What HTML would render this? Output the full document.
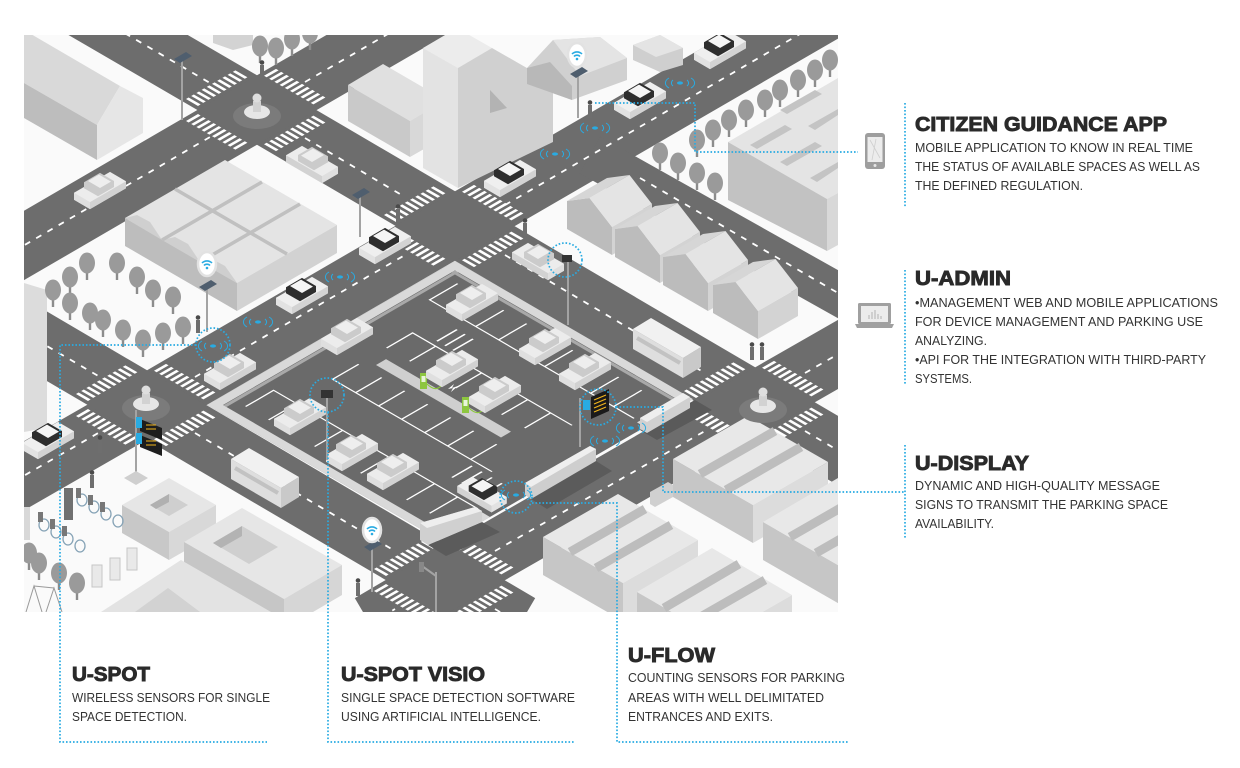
<!DOCTYPE html>
<html><head><meta charset="utf-8"><style>
html,body{margin:0;padding:0;background:#fff;}
svg{display:block;}
.h{font-family:"Liberation Sans",Arial,sans-serif;font-weight:bold;font-size:20px;fill:#2a2a2a;stroke:#2a2a2a;stroke-width:0.9px;}
.b{font-family:"Liberation Sans",Arial,sans-serif;font-size:12.8px;fill:#333;}
</style></head><body>
<svg width="1240" height="768" viewBox="0 0 1240 768" xmlns="http://www.w3.org/2000/svg">
<defs>
<clipPath id="c"><rect x="24" y="35" width="814" height="577"/></clipPath>
<g id="tree"><rect x="-1.2" y="-8" width="2.4" height="9" fill="#8c8c8c"/><ellipse cx="0" cy="-16" rx="8" ry="10.5" fill="#9a9a9a"/></g>
<g id="house">
<polygon points="0,0 40,-23 40,-51 0,-28" fill="#d3d3d3"/>
<polygon points="0,0 -45,-26 -45,-54 -22.5,-57 0,-28" fill="#bcbcbc"/>
<polygon points="-22.5,-57 17.5,-80 -5,-77 -45,-54" fill="#d6d6d6"/>
<polygon points="0,-28 40,-51 17.5,-80 -22.5,-57" fill="#e4e4e4"/>
</g>
<g id="cd">
<polygon points="-26,5.8 -10,15.1 26,-5.8 26,-12.8 10,-22.1 -26,-1.2" fill="#efefef"/>
<polygon points="-10,15.1 26,-5.8 26,-12.8 -10,8.1" fill="#d3d3d3"/>
<polygon points="-26,5.8 -10,15.1 -10,8.1 -26,-1.2" fill="#e2e2e2"/>
<polygon points="-16,-5.8 -2,2.3 14,-7 14,-13 0,-21.1 -16,-11.8" fill="#2e2e2e"/>
<polygon points="-12,-13 0,-6 11,-12.4 -1,-19.4" fill="#f5f5f5"/>
</g>
<g id="cl">
<polygon points="-26,5.8 -10,15.1 26,-5.8 26,-12.8 10,-22.1 -26,-1.2" fill="#ececec"/>
<polygon points="-10,15.1 26,-5.8 26,-12.8 -10,8.1" fill="#d2d2d2"/>
<polygon points="-26,5.8 -10,15.1 -10,8.1 -26,-1.2" fill="#dfdfdf"/>
<polygon points="-16,-5.8 -2,2.3 14,-7 14,-13 0,-21.1 -16,-11.8" fill="#cbcbcb"/>
<polygon points="-12,-13 0,-6 11,-12.4 -1,-19.4" fill="#eeeeee"/>
</g>
<g id="ws"><ellipse rx="3" ry="1.6" fill="#29abe2"/><path d="M-7,-3 A8,5 0 0 0 -7,3 M7,-3 A8,5 0 0 1 7,3 M-11,-5 A12,7 0 0 0 -11,5 M11,-5 A12,7 0 0 1 11,5" stroke="#29abe2" fill="none" stroke-width="1"/></g>
<g id="wb"><ellipse rx="9" ry="12" fill="#fff" stroke="#e2e2e2" stroke-width="2.5"/><path d="M-5,-1 A7,7 0 0 1 5,-1 M-3,1.5 A4,4 0 0 1 3,1.5" stroke="#29abe2" fill="none" stroke-width="1.6"/><circle cx="0" cy="4" r="1.3" fill="#29abe2"/></g>
<g id="ped"><rect x="-2" y="-13" width="4" height="13" fill="#6e6e6e"/><circle cx="0" cy="-15.5" r="2.3" fill="#4a4a4a"/></g>
<g id="sp"><polygon points="-8,2 4,-5 10,-1 -2,6" fill="#4f5e6e"/></g>
<g id="statue"><ellipse cx="0" cy="0" rx="24" ry="13" fill="#7b7b7b"/><ellipse cx="0" cy="-4" rx="13" ry="7" fill="#e6e6e6"/><rect x="-4" y="-15" width="8" height="11" fill="#d2d2d2"/><circle cx="0" cy="-18" r="4.5" fill="#dedede"/></g>
</defs>

<g clip-path="url(#c)">
<rect x="24" y="35" width="814" height="577" fill="#fafafa"/>

<g stroke="#6d6d6d" stroke-width="60" fill="none" stroke-linejoin="round">
<polyline points="80,7 257,110 455,226 755,402 900,487"/>
<polyline points="-20,271 257,110 450,-2"/>
<polyline points="-20,501 147,405 455,226 900,-32"/>
<polyline points="-20,307 147,405 445,580 520,624"/>
<polyline points="370,624 445,580 755,402 900,319"/>
</g>
<line x1="590" y1="155" x2="900" y2="329" stroke="#6d6d6d" stroke-width="42"/>

<path d="M80,7 L210,83 M305,138 L405,197 M505,255 L705,373 M805,431 L900,487 M-20,271 L210,137 M305,82 L450,-2 M-20,501 L100,432 M195,377 L405,255 M505,205 L900,-24 M-20,307 L100,377 M195,433 L395,551 M495,609 L520,624 M370,624 L395,609 M495,551 L705,431 M805,373 L900,319 M640,178 L900,329" stroke="#fff" stroke-width="1.8" stroke-dasharray="6 7" fill="none"/>

<g stroke="#fff" stroke-width="12" stroke-dasharray="2.6 2.6" fill="none">
<path transform="matrix(1 .58 1 -.58 257 110)" d="M39,-26V26 M-39,-26V26 M-26,39H26 M-26,-39H26"/>
<path transform="matrix(1 .58 1 -.58 455 226)" d="M39,-26V26 M-39,-26V26 M-26,39H26 M-26,-39H26"/>
<path transform="matrix(1 .58 1 -.58 147 405)" d="M39,-26V26 M-39,-26V26 M-26,39H26 M-26,-39H26"/>
<path transform="matrix(1 .58 1 -.58 755 402)" d="M39,-26V26 M-39,-26V26 M-26,39H26 M-26,-39H26"/>
<path transform="matrix(1 .58 1 -.58 445 580)" d="M39,-26V26 M-39,-26V26 M-26,39H26 M-26,-39H26"/>
</g>

<g transform="matrix(1 .58 1 -.58 207 405)">
<rect x="0" y="0" width="238" height="248" fill="#6a6a6a"/>
<g stroke="#fff" fill="none">
<line x1="20" y1="32" x2="225" y2="32" stroke-width="28" stroke-dasharray="1.3 21.7"/>
<line x1="40" y1="98" x2="200" y2="98" stroke-width="26" stroke-dasharray="1.3 21.7"/>
<line x1="40" y1="152" x2="200" y2="152" stroke-width="26" stroke-dasharray="1.3 21.7"/>
<line x1="20" y1="216" x2="225" y2="216" stroke-width="28" stroke-dasharray="1.3 21.7"/>
<path d="M20,46H225 M40,85H200 M40,165H200 M20,202H225" stroke-width="1.2"/>
<path d="M185,60V80 M195,60V80 M205,60V80 M215,60V80" stroke-width="1.5"/>
<path d="M60,170V190 M68,170V190 M76,170V190" stroke-width="1.5"/>
</g>
<rect x="50" y="119" width="125" height="10" fill="#cfcfcf"/>
<line x1="4" y1="0" x2="4" y2="248" stroke="#d9d9d9" stroke-width="8"/>
<line x1="10" y1="8" x2="10" y2="242" stroke="#a9a9a9" stroke-width="3"/>
<line x1="0" y1="244" x2="238" y2="244" stroke="#d9d9d9" stroke-width="8"/>
<line x1="8" y1="238" x2="232" y2="238" stroke="#a9a9a9" stroke-width="3"/>
<line x1="0" y1="4" x2="238" y2="4" stroke="#d9d9d9" stroke-width="8"/>
<line x1="234" y1="200" x2="234" y2="248" stroke="#d9d9d9" stroke-width="8"/>
<line x1="234" y1="0" x2="234" y2="45" stroke="#d9d9d9" stroke-width="8"/>
</g>
<rect x="420" y="373" width="7" height="16" fill="#8dc63f"/><rect x="421.5" y="376" width="4" height="6" fill="#e8f5d8"/>
<rect x="462" y="397" width="7" height="16" fill="#8dc63f"/><rect x="463.5" y="400" width="4" height="6" fill="#e8f5d8"/>
<path d="M427,384 q8,8 14,2 M469,408 q8,8 14,2" stroke="#8dc63f" fill="none" stroke-width="1.2"/>
<path d="M448,389 l6,-5 -2,4 6,-2 -7,6 2,-4z" fill="#fff"/>
<polygon points="640,430 695,400 712,410 657,440" fill="#5a5a5a"/>
<polygon points="640,418 683,393 690,397 690,408 647,433 640,429" fill="#d0d0d0"/>
<polygon points="640,418 683,393 690,397 647,422" fill="#eeeeee"/>
<polygon points="531,499 596,461 612,471 547,509" fill="#5b5b5b"/>
<polygon points="525,483 590,446 596,449 596,461 531,499 525,495" fill="#cecece"/>
<polygon points="525,483 590,446 596,449 531,487" fill="#efefef"/>
<polygon points="428,545 482,522 500,532 446,556" fill="#5b5b5b"/>
<polygon points="420,523 475,507 482,511 482,522 428,545 420,540" fill="#d0d0d0"/>
<polygon points="420,523 475,507 482,511 427,528" fill="#eeeeee"/>
<polygon points="650,492 668,482 673,485 673,497 655,507 650,504" fill="#d0d0d0"/>

<use href="#cl" x="347" y="340"/>
<use href="#cl" x="472" y="306"/>
<use href="#cl" x="300" y="420"/>
<use href="#cl" x="352" y="456"/>
<use href="#cl" x="393" y="475"/>
<use href="#cl" x="545" y="350"/>
<use href="#cl" x="585" y="375"/>
<use href="#cl" x="452" y="372"/>
<use href="#cl" x="495" y="398"/>
<use href="#cd" transform="translate(482,498) scale(-0.95,0.95)"/>

<polygon points="24,30 120,86 97,125 24,83" fill="#d9d9d9"/>
<polygon points="97,125 120,86 143,98 143,133 97,160" fill="#e6e6e6"/>
<polygon points="24,83 97,125 97,160 24,118" fill="#bdbdbd"/>
<polygon points="213,35 253,35 253,45 233,50 213,43" fill="#d3d3d3"/>
<use href="#tree" x="260" y="62"/><use href="#tree" x="276" y="64"/><use href="#tree" x="292" y="55"/><use href="#tree" x="310" y="49"/>
<polygon points="348,85 410,121 445,100 383,64" fill="#e0e0e0"/>
<polygon points="348,85 410,121 410,157 348,121" fill="#c9c9c9"/>
<polygon points="410,121 445,100 445,137 410,157" fill="#d8d8d8"/>
<polygon points="423,48 458,68 492,48 457,28" fill="#ececec"/>
<polygon points="458,68 492,48 553,83 553,142 458,188" fill="#d0d0d0"/>
<polygon points="490,90 507,108 490,113" fill="#b3b3b3"/>
<polygon points="423,48 458,68 458,188 423,168" fill="#e3e3e3"/>
<polygon points="527,68 553,40 600,37 627,58 627,80 572,100 527,84" fill="#d0d0d0"/>
<polygon points="553,40 600,37 627,58 580,76" fill="#e4e4e4"/>
<polygon points="527,68 527,84 572,100 572,86 550,62" fill="#b8b8b8"/>
<polygon points="633,45 660,35 683,48 683,65 660,72 633,60" fill="#cfcfcf"/>
<polygon points="633,45 660,35 683,48 656,57" fill="#e4e4e4"/>

<use href="#tree" x="697" y="156"/><use href="#tree" x="713" y="146"/><use href="#tree" x="729" y="136"/><use href="#tree" x="746" y="126"/><use href="#tree" x="765" y="116"/><use href="#tree" x="780" y="106"/><use href="#tree" x="798" y="96"/><use href="#tree" x="815" y="86"/><use href="#tree" x="830" y="76"/>
<use href="#tree" x="660" y="169"/><use href="#tree" x="678" y="179"/><use href="#tree" x="697" y="189"/><use href="#tree" x="715" y="199"/>
<polygon points="728,142 827,199 838,193 838,78" fill="#e4e4e4"/>
<polygon points="728,142 827,199 827,251 728,200" fill="#c2c2c2"/>
<polygon points="827,199 838,193 838,245 827,251" fill="#d8d8d8"/>
<g fill="#c4c4c4"><polygon points="750,145 785,125 792,129 757,149"/><polygon points="780,162 815,142 822,146 787,166"/><polygon points="810,178 838,162 838,168 817,182"/><polygon points="780,110 815,90 822,94 787,114"/><polygon points="808,126 838,109 838,115 815,130"/></g>

<use href="#house" x="612" y="255"/>
<use href="#house" x="660" y="283"/>
<use href="#house" x="708" y="311"/>
<use href="#house" x="758" y="339"/>

<polygon points="125,218 237,283 337,225 225,160" fill="#e4e4e4"/>
<polygon points="125,218 237,283 237,311 125,246" fill="#bdbdbd"/>
<polygon points="237,283 337,225 337,253 237,311" fill="#d2d2d2"/>
<polygon points="125,218 162,240 150,222 137,215" fill="#cfcfcf"/>
<polygon points="162,240 200,262 188,244 175,237" fill="#cfcfcf"/>
<polygon points="200,262 237,283 225,266 212,259" fill="#cfcfcf"/>
<path d="M175,189 L287,254 M162,240 L262,182 M200,262 L300,204" stroke="#c0c0c0" stroke-width="3.5" fill="none"/>
<polygon points="24,283 47,290 47,428 24,432" fill="#dcdcdc"/>
<use href="#tree" x="53" y="306"/><use href="#tree" x="70" y="293"/><use href="#tree" x="87" y="279"/><use href="#tree" x="117" y="279"/><use href="#tree" x="70" y="319"/><use href="#tree" x="90" y="329"/><use href="#tree" x="137" y="293"/><use href="#tree" x="153" y="306"/><use href="#tree" x="173" y="313"/><use href="#tree" x="103" y="336"/><use href="#tree" x="123" y="346"/><use href="#tree" x="143" y="356"/><use href="#tree" x="163" y="349"/><use href="#tree" x="183" y="343"/>

<use href="#cd" x="385" y="249"/>
<use href="#cd" x="302" y="299"/>
<use href="#cd" x="48" y="444"/>
<use href="#cd" x="510" y="182"/>
<use href="#cd" x="640" y="104"/>
<use href="#cd" x="720" y="54"/>
<use href="#cl" x="230" y="375"/>
<use href="#cl" x="100" y="194"/>
<use href="#cl" transform="translate(312,168) scale(-1,1)"/>
<use href="#cl" transform="translate(538,265) scale(-1,1)"/>
<polygon points="231,479 281,508 281,488 231,459" fill="#dedede"/>
<polygon points="281,508 299,497 299,477 281,488" fill="#c9c9c9"/>
<polygon points="231,459 281,488 299,477 249,448" fill="#f1f1f1"/>
<line x1="235" y1="468" x2="278" y2="493" stroke="#c2c2c2" stroke-width="4"/>
<polygon points="633,349 683,378 683,358 633,329" fill="#dedede"/>
<polygon points="683,378 701,367 701,347 683,358" fill="#c9c9c9"/>
<polygon points="633,329 683,358 701,347 651,318" fill="#f1f1f1"/>
<line x1="637" y1="338" x2="680" y2="363" stroke="#c2c2c2" stroke-width="4"/>

<g>
<polygon points="673,497 753,543 753,505 673,459" fill="#c6c6c6"/>
<polygon points="753,543 828,500 828,462 753,505" fill="#dcdcdc"/>
<polygon points="673,459 753,505 828,462 748,416" fill="#e8e8e8"/>
<path d="M700,474 L775,431 M726,490 L801,447" stroke="#bdbdbd" stroke-width="9"/>
<polygon points="543,575 623,621 623,583 543,537" fill="#c6c6c6"/>
<polygon points="623,621 698,578 698,540 623,583" fill="#dcdcdc"/>
<polygon points="543,537 623,583 698,540 618,494" fill="#e8e8e8"/>
<path d="M570,552 L645,509 M596,568 L671,525" stroke="#bdbdbd" stroke-width="9"/>
<polygon points="763,560 843,606 843,568 763,522" fill="#c6c6c6"/>
<polygon points="763,522 843,568 918,525 838,478" fill="#e8e8e8"/>
<path d="M790,537 L865,494 M816,553 L891,510" stroke="#bdbdbd" stroke-width="9"/>
<polygon points="637,630 717,676 717,638 637,592" fill="#c6c6c6"/>
<polygon points="717,676 792,633 792,595 717,638" fill="#dcdcdc"/>
<polygon points="637,592 717,638 792,595 712,548" fill="#e8e8e8"/>
<path d="M664,608 L739,564 M690,623 L765,580" stroke="#bdbdbd" stroke-width="9"/>
</g>

<polygon points="122,505 169,532 216,505 169,478" fill="#e6e6e6"/>
<polygon points="122,505 169,532 169,560 122,533" fill="#c8c8c8"/>
<polygon points="169,532 216,505 216,533 169,560" fill="#d8d8d8"/>
<polygon points="150,505 169,494 188,505 169,516" fill="#cfcfcf"/>
<polygon points="150,505 169,494 169,502 156,509" fill="#b0b0b0"/>
<polygon points="184,542 242,508 342,565 284,599" fill="#e6e6e6"/>
<polygon points="184,542 284,599 284,629 184,572" fill="#c6c6c6"/>
<polygon points="284,599 342,565 342,595 284,629" fill="#d6d6d6"/>
<polygon points="213,543 242,526 278,547 249,564" fill="#cfcfcf"/>
<polygon points="213,543 242,526 242,536 221,548" fill="#b3b3b3"/>
<polygon points="101,612 181,560 271,612" fill="#e3e3e3"/>
<polygon points="135,612 168,588 200,612" fill="#d2d2d2"/>
<use href="#tree" x="29" y="569"/><use href="#tree" x="39" y="579"/><use href="#tree" x="59" y="589"/><use href="#tree" x="77" y="599"/>
<g fill="#e9e9e9" stroke="#c6c6c6" stroke-width="1"><rect x="92" y="565" width="10" height="22"/><rect x="110" y="558" width="10" height="22"/><rect x="127" y="548" width="10" height="22"/></g>
<g stroke="#86a3b6" stroke-width="1.3" fill="none">
<ellipse cx="44" cy="525" rx="5" ry="6"/><ellipse cx="56" cy="532" rx="5" ry="6"/><ellipse cx="68" cy="539" rx="5" ry="6"/><ellipse cx="80" cy="546" rx="5" ry="6"/>
<ellipse cx="82" cy="500" rx="5" ry="6"/><ellipse cx="94" cy="507" rx="5" ry="6"/><ellipse cx="106" cy="514" rx="5" ry="6"/><ellipse cx="118" cy="521" rx="5" ry="6"/>
</g>
<g fill="#777"><rect x="38" y="512" width="5" height="10"/><rect x="50" y="519" width="5" height="10"/><rect x="62" y="526" width="5" height="10"/><rect x="76" y="488" width="5" height="10"/><rect x="88" y="495" width="5" height="10"/><rect x="100" y="502" width="5" height="10"/></g>
<rect x="64" y="488" width="9" height="32" fill="#707070"/>
<rect x="24" y="507" width="6" height="33" fill="#d8d8d8"/>
<path d="M26,612 L34,586 L42,612 M46,612 L54,588 L62,612 M34,586 L54,588" stroke="#9a9a9a" stroke-width="1" fill="none"/>

<use href="#statue" x="257" y="116"/>
<use href="#statue" x="146" y="408"/>
<use href="#statue" x="763" y="410"/>

<g stroke="#a3a3a3" stroke-width="2">
<line x1="182" y1="58" x2="182" y2="120"/><line x1="360" y1="195" x2="360" y2="237"/><line x1="207" y1="287" x2="207" y2="332"/>
<line x1="578" y1="73" x2="578" y2="118"/><line x1="372" y1="547" x2="372" y2="592"/>
<line x1="568" y1="262" x2="568" y2="325"/><line x1="327" y1="397" x2="327" y2="460"/>
<line x1="136" y1="410" x2="136" y2="480"/><line x1="580" y1="398" x2="580" y2="447"/>
<line x1="436" y1="572" x2="436" y2="612"/><line x1="422" y1="566" x2="436" y2="576"/>
</g>
<use href="#sp" x="182" y="57"/><use href="#sp" x="360" y="193"/><use href="#sp" x="207" y="285"/><use href="#sp" x="578" y="72"/><use href="#sp" x="372" y="545"/>
<rect x="562" y="255" width="10" height="7" fill="#333"/><rect x="321" y="390" width="12" height="8" fill="#333"/>
<rect x="419" y="562" width="5" height="10" fill="#888"/>
<polygon points="124,478 136,471 148,478 136,485" fill="#cfcfcf"/>
<polygon points="140,419 162,428 162,440 140,431" fill="#1e1e1e"/><polygon points="140,435 162,444 162,456 140,447" fill="#1e1e1e"/>
<rect x="136" y="417" width="6" height="11" fill="#29abe2"/><rect x="136" y="433" width="6" height="11" fill="#29abe2"/>
<path d="M146,425 h10 M146,429 h10 M146,441 h10 M146,445 h10" stroke="#f2b51c" stroke-width="1"/>
<polygon points="591,397 609,389 609,411 591,419" fill="#1a1a1a"/>
<path d="M594,400 l12,-5 M594,404 l12,-5 M594,408 l12,-5 M594,412 l12,-5" stroke="#f2b51c" stroke-width="1.2"/>
<rect x="583" y="400" width="7" height="10" fill="#29abe2"/>

<use href="#wb" x="207" y="264"/><use href="#wb" x="577" y="55"/><use href="#wb" x="372" y="530"/>
<use href="#ws" x="213" y="346"/><use href="#ws" x="258" y="322"/><use href="#ws" x="340" y="277"/>
<use href="#ws" x="555" y="154"/><use href="#ws" x="595" y="128"/><use href="#ws" x="680" y="83"/>
<use href="#ws" x="605" y="441"/><use href="#ws" x="631" y="428"/><use href="#ws" x="516" y="495"/>

<use href="#ped" x="262" y="78"/><use href="#ped" x="590" y="118"/><use href="#ped" x="525" y="236"/><use href="#ped" x="198" y="333"/>
<use href="#ped" x="100" y="453"/><use href="#ped" x="92" y="488"/><use href="#ped" x="358" y="596"/><use href="#ped" x="752" y="360"/><use href="#ped" x="762" y="360"/><use href="#ped" x="398" y="222"/>
</g>

<g stroke="#29abe2" stroke-width="1.7" fill="none" stroke-dasharray="1.6 1.9">
<circle cx="213" cy="345" r="17"/>
<circle cx="327" cy="395" r="17"/>
<circle cx="565" cy="260" r="17"/>
<circle cx="598" cy="407" r="18"/>
<circle cx="516" cy="497" r="16"/>
<path d="M196,345 H60 V742 H267"/>
<path d="M328,412 V742 H575"/>
<path d="M532,503 H617 V742 H848"/>
<path d="M616,407 H663 V492 H905"/>
<path d="M595,103 H695 V152 H858"/>
<path d="M905,103 V207 M905,270 V385 M905,445 V538"/>
</g>

<rect x="865" y="133" width="20" height="36" rx="3" fill="#9e9e9e"/>
<rect x="867.5" y="137" width="15" height="25" fill="#ececec"/>
<path d="M870,140 L880,158 M876,139 L872,160" stroke="#cfcfcf" stroke-width="0.8"/>
<circle cx="875" cy="165.5" r="1.5" fill="#e6e6e6"/>
<rect x="858" y="303" width="33" height="21" rx="1.5" fill="#a0a0a0"/>
<rect x="861" y="306" width="27" height="16" fill="#ececec"/>
<path d="M869,319 v-4 M872,319 v-7 M875,319 v-9 M878,319 v-5 M881,319 v-3" stroke="#cfcfcf" stroke-width="2"/>
<path d="M855,324 H894 L892,328 H857 Z" fill="#a0a0a0"/>

<text class="h" x="915" y="131" textLength="252" lengthAdjust="spacingAndGlyphs">CITIZEN GUIDANCE APP</text>
<text class="b" x="915" y="152" textLength="278" lengthAdjust="spacingAndGlyphs">MOBILE APPLICATION TO KNOW IN REAL TIME</text>
<text class="b" x="915" y="171" textLength="285" lengthAdjust="spacingAndGlyphs">THE STATUS OF AVAILABLE SPACES AS WELL AS</text>
<text class="b" x="915" y="190" textLength="168" lengthAdjust="spacingAndGlyphs">THE DEFINED REGULATION.</text>

<text class="h" x="915" y="285" textLength="96" lengthAdjust="spacingAndGlyphs">U-ADMIN</text>
<text class="b" x="915" y="307" textLength="303" lengthAdjust="spacingAndGlyphs">•MANAGEMENT WEB AND MOBILE APPLICATIONS</text>
<text class="b" x="915" y="326" textLength="288" lengthAdjust="spacingAndGlyphs">FOR DEVICE MANAGEMENT AND PARKING USE</text>
<text class="b" x="915" y="345" textLength="72" lengthAdjust="spacingAndGlyphs">ANALYZING.</text>
<text class="b" x="915" y="364" textLength="291" lengthAdjust="spacingAndGlyphs">•API FOR THE INTEGRATION WITH THIRD-PARTY</text>
<text class="b" x="915" y="383" textLength="57" lengthAdjust="spacingAndGlyphs">SYSTEMS.</text>

<text class="h" x="915" y="470" textLength="114" lengthAdjust="spacingAndGlyphs">U-DISPLAY</text>
<text class="b" x="915" y="490" textLength="245" lengthAdjust="spacingAndGlyphs">DYNAMIC AND HIGH-QUALITY MESSAGE</text>
<text class="b" x="915" y="509" textLength="253" lengthAdjust="spacingAndGlyphs">SIGNS TO TRANSMIT THE PARKING SPACE</text>
<text class="b" x="915" y="528" textLength="79" lengthAdjust="spacingAndGlyphs">AVAILABILITY.</text>

<text class="h" x="72" y="681" textLength="78" lengthAdjust="spacingAndGlyphs">U-SPOT</text>
<text class="b" x="72" y="702" textLength="198" lengthAdjust="spacingAndGlyphs">WIRELESS SENSORS FOR SINGLE</text>
<text class="b" x="72" y="721" textLength="115" lengthAdjust="spacingAndGlyphs">SPACE DETECTION.</text>

<text class="h" x="341" y="681" textLength="144" lengthAdjust="spacingAndGlyphs">U-SPOT VISIO</text>
<text class="b" x="341" y="702" textLength="234" lengthAdjust="spacingAndGlyphs">SINGLE SPACE DETECTION SOFTWARE</text>
<text class="b" x="341" y="721" textLength="200" lengthAdjust="spacingAndGlyphs">USING ARTIFICIAL INTELLIGENCE.</text>

<text class="h" x="628" y="662" textLength="87" lengthAdjust="spacingAndGlyphs">U-FLOW</text>
<text class="b" x="628" y="682" textLength="217" lengthAdjust="spacingAndGlyphs">COUNTING SENSORS FOR PARKING</text>
<text class="b" x="628" y="702" textLength="196" lengthAdjust="spacingAndGlyphs">AREAS WITH WELL DELIMITATED</text>
<text class="b" x="628" y="721" textLength="145" lengthAdjust="spacingAndGlyphs">ENTRANCES AND EXITS.</text>
</svg>
</body></html>
